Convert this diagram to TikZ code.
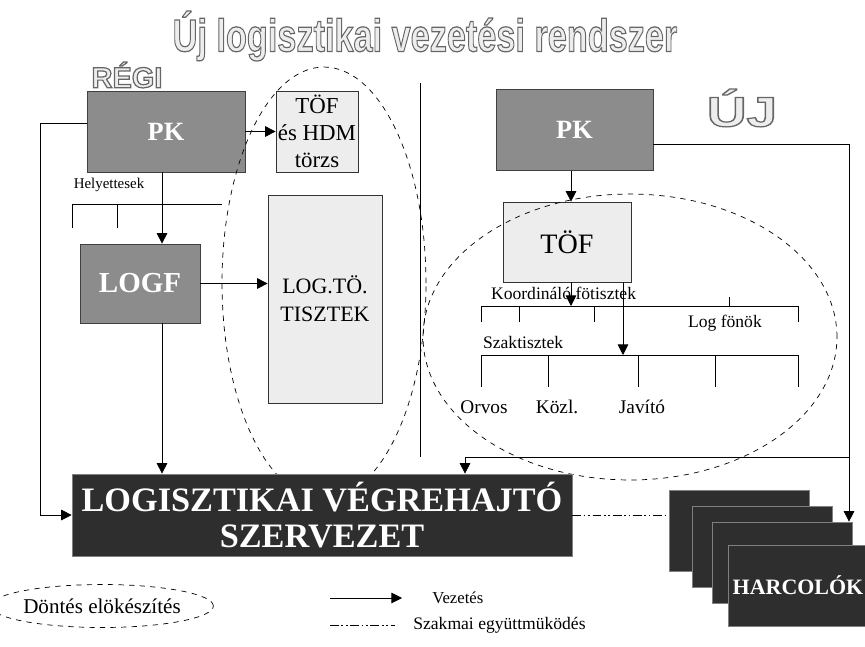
\documentclass[tikz,border=0pt]{standalone}
\usepackage{fontspec}
\setmainfont{Liberation Serif}
\newfontfamily\headfont{Liberation Sans}
\usetikzlibrary{positioning,arrows.meta,shapes.geometric}
\newcommand\hollow[1]{\special{pdf:literal direct 2 Tr 0.7 w 0.93 g 0.4 G}#1\special{pdf:literal direct 0 Tr 0 g 0 G}}

\begin{document}
\begin{tikzpicture}[x=0.02cm, y=-0.02cm,
  darkbox/.style={draw=black!75, fill=black!45, text=white, inner sep=0pt, font=\bfseries\fontsize{15}{17}\selectfont},
  lightbox/.style={draw=black!80, fill=black!7, inner sep=0pt, align=center},
  nightbox/.style={draw=black!50, fill=black!82, text=white, inner sep=0pt, minimum width=2.8cm, minimum height=1.62cm},
  headline/.style={inner sep=0pt, font=\headfont\bfseries},
  lead/.style={-{Triangle[length=6pt,width=6pt]}},
  coop/.style={dash pattern=on 5pt off 1.5pt on 1pt off 1.5pt on 1pt off 1.5pt},
  lbl/.style={inner sep=1pt, font=\fontsize{10}{12}\selectfont}]
  \useasboundingbox (0,0) rectangle (865,646);

  % headings
  \node[headline, font=\headfont\bfseries\fontsize{26}{28}\selectfont] (ttl) at (425,36) {\scalebox{0.75}[1]{\hollow{Új logisztikai vezetési rendszer}}};
  \node[headline, font=\headfont\bfseries\fontsize{16.5}{18}\selectfont] (regi) at (127,75) {\hollow{RÉGI}};
  \node[headline, font=\headfont\bfseries\fontsize{24}{26}\selectfont] (uj) at (742,108) {\scalebox{1.3}[1]{\hollow{ÚJ}}};

  % old system
  \node[darkbox, minimum width=3.16cm, minimum height=1.62cm] (pkL) at (166,131.5) {PK};
  \node[lightbox, minimum width=1.64cm, minimum height=1.62cm, font=\fontsize{13}{15.5}\selectfont] (tofL) at (317,131.5) {TÖF\\és HDM\\törzs};
  \node[darkbox, minimum width=2.4cm, minimum height=1.58cm, font=\bfseries\fontsize{16.5}{18}\selectfont] (logf) at (140,283.5) {LOGF};
  \node[lightbox, minimum width=2.28cm, minimum height=4.16cm, font=\fontsize{12.5}{16}\selectfont] (logto) at (325,299) {LOG.TÖ.\\TISZTEK};
  \node[lbl, font=\fontsize{8.5}{10}\selectfont] (hely) at (109,185) {Helyettesek};
  \coordinate (vL) at (162,0);

  \draw (72,228) -- (72,204) -- (222,204);
  \draw (117,204) -- (117,228);
  \draw[lead] (pkL.east) -- (tofL.west);
  \draw[lead] (pkL.south -| vL) -- (logf.north -| vL);
  \draw[lead] (logf.east) -- (logf.east -| logto.west);
  \draw (420,83) -- (420,457);

  % new system
  \node[darkbox, minimum width=3.14cm, minimum height=1.62cm] (pkR) at (574.5,130) {PK};
  \node[lightbox, minimum width=2.56cm, minimum height=1.6cm, font=\fontsize{16}{18}\selectfont] (tofR) at (567,242) {TÖF};
  \coordinate (vR) at (571,0);
  \coordinate (vT) at (623,0);
  \coordinate (b1) at (481,306);
  \coordinate (b2) at (481,355);
  \draw[lead] (pkR.south -| vR) -- (tofR.north -| vR);
  \draw (b1) -- (798,306);
  \draw (b2) -- (798,355);
  \foreach \x in {481,519,594,798} \draw (\x,306) -- (\x,322);
  \draw (729,306) -- (729,297);
  \foreach \x in {481,548,638,715,798} \draw (\x,355) -- (\x,387);
  \draw[lead] (tofR.south -| vR) -- (b1 -| vR);
  \draw[lead] (tofR.south -| vT) -- (b2 -| vT);

  \node[lbl, anchor=west] (koord) at (489,293) {Koordináló fötisztek};
  \node[lbl, anchor=west] (fonok) at (686,323) {Log fönök};
  \node[lbl, anchor=west] (szak) at (481,342) {Szaktisztek};
  \node[lbl, font=\fontsize{11}{13}\selectfont] (orvos) at (484,407) {Orvos};
  \node[lbl, font=\fontsize{11}{13}\selectfont] (kozl) at (557,407) {Közl.};
  \node[lbl, font=\fontsize{11}{13}\selectfont] (javito) at (642,407) {Javító};

  % decision preparation
  \draw[dashed] (324,283) ellipse [x radius=2.04cm, y radius=4.32cm];
  \draw[dashed] (630,337) ellipse [x radius=4.14cm, y radius=2.86cm];

  % executing side
  \node[nightbox, minimum width=10cm, minimum height=1.64cm, align=center, font=\bfseries\fontsize{19.5}{20}\selectfont] (lvsz) at (322,515) {LOGISZTIKAI VÉGREHAJTÓ\\SZERVEZET};
  \node[nightbox] (harc1) at (739,530.5) {};
  \node[nightbox] (harc2) at (762,546.5) {};
  \node[nightbox] (harc3) at (782,562.5) {};
  \node[nightbox, font=\bfseries\fontsize{12.5}{14}\selectfont] (harc4) at (798,585.5) {HARCOLÓK};
  \coordinate (vH) at (849,0);
  \coordinate (vB) at (465,0);
  \coordinate (jn) at (849,457);

  \draw[lead] ([yshift=.17cm]pkL.west) -- ++(-46,0) |- (lvsz.west);
  \draw[lead] (logf.south -| vL) -- (lvsz.north -| vL);
  \draw[lead] ([yshift=-.28cm]pkR.east) -| (harc3.north -| vH);
  \draw[lead] (jn) -| (lvsz.north -| vB);
  \draw[coop] (lvsz.east) -- (lvsz.east -| harc1.west);

  % legend
  \node[draw, dashed, ellipse, inner sep=0pt, minimum width=3.9cm, minimum height=0.86cm, font=\fontsize{12}{14}\selectfont] (dont) at (102,606) {Döntés elökészítés};
  \node[lbl, anchor=west, inner sep=0pt, font=\fontsize{9.5}{11}\selectfont] (vez) at (432,598) {Vezetés};
  \node[lbl, anchor=west, inner sep=0pt] (szakm) at (413,625) {Szakmai együttmüködés};
  \coordinate (lg1) at (330,598);
  \coordinate (lg2) at (330,625);
  \draw[lead] (lg1) -- ([xshift=-.6cm]vez.west);
  \draw[coop] (lg2) -- ([xshift=-.36cm]szakm.west);
\end{tikzpicture}
\end{document}
